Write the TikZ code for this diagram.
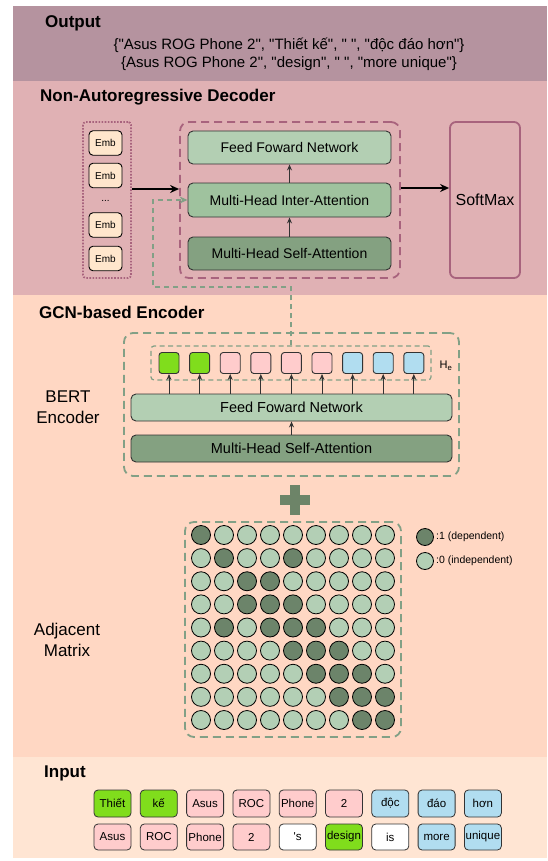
\documentclass[tikz,border=0pt]{standalone}
\usepackage{fontspec}
\setmainfont{Liberation Sans}[Ligatures=TeXOff]
\usetikzlibrary{arrows.meta,calc}
\definecolor{outbg}{HTML}{B5939F}
\definecolor{decbg}{HTML}{E0B1B4}
\definecolor{encbg}{HTML}{FFD7C3}
\definecolor{inbg}{HTML}{FFE5D3}
\definecolor{mauve}{HTML}{A8637D}
\definecolor{gline}{HTML}{82A086}
\definecolor{gone}{HTML}{B3CFB3}
\definecolor{gtwo}{HTML}{9FC29E}
\definecolor{gthree}{HTML}{84A181}
\definecolor{embfill}{HTML}{FFE6CC}
\definecolor{tgreen}{HTML}{80DD1C}
\definecolor{tpink}{HTML}{FFCCCC}
\definecolor{tblue}{HTML}{B1DDF0}
\definecolor{cdark}{HTML}{6C846A}
\definecolor{clight}{HTML}{B3CFB5}
\definecolor{plusc}{HTML}{6D8468}
\definecolor{edge}{HTML}{333333}
\begin{document}
\begin{tikzpicture}[x=1pt,y=-1pt,
  ttl/.style={anchor=west,inner sep=0pt,font=\fontsize{17}{20}\selectfont\bfseries},
  lbl/.style={align=center,inner sep=0pt,font=\fontsize{17}{21}\selectfont},
  gbox/.style={draw=edge,line width=0.9pt,rounded corners=5pt,inner sep=0pt,minimum width=203pt,font=\fontsize{14}{17}\selectfont},
  ebox/.style={draw=edge,line width=0.9pt,rounded corners=5pt,inner sep=0pt,minimum width=321pt,minimum height=27pt,font=\fontsize{14.5}{17}\selectfont},
  embbox/.style={draw=black,line width=0.9pt,rounded corners=4pt,fill=embfill,inner sep=0pt,minimum width=33pt,minimum height=24.5pt,font=\fontsize{10}{12}\selectfont},
  embgrp/.style={draw=mauve,line width=1.8pt,dash pattern=on 1.6pt off 1.5pt,rounded corners=3pt,minimum width=48pt,minimum height=156pt,inner sep=0pt},
  decgrp/.style={draw=mauve,line width=1.8pt,dash pattern=on 8pt off 5pt,rounded corners=9pt,minimum width=220pt,minimum height=156pt,inner sep=0pt},
  softbox/.style={draw=mauve,line width=1.8pt,rounded corners=6pt,minimum width=70pt,minimum height=156pt,inner sep=0pt,font=\fontsize{16}{19}\selectfont},
  grngrp/.style={draw=gline,line width=1.8pt,dash pattern=on 8pt off 5pt,rounded corners=9pt,inner sep=0pt},
  hegrp/.style={draw=gline,line width=1.2pt,dash pattern=on 5pt off 3.5pt,rounded corners=3pt,minimum width=280pt,minimum height=34pt,inner sep=0pt},
  sq/.style={draw=edge,line width=0.9pt,rounded corners=3pt,minimum width=20pt,minimum height=21pt,inner sep=0pt},
  dot/.style={circle,draw=black,line width=0.8pt,minimum size=19pt,inner sep=0pt},
  tok/.style={draw=edge,line width=0.8pt,rounded corners=4pt,minimum width=37pt,inner sep=0pt,font=\fontsize{11.5}{14}\selectfont},
  bigarr/.style={draw=black,line width=1.4pt,-{Stealth[length=9pt,width=8pt]}},
  sarr/.style={draw=edge,line width=0.9pt,-{Stealth[length=6pt,width=5pt]}},
  garr/.style={draw=gline,line width=1.3pt,dash pattern=on 5pt off 4pt,-{Stealth[length=8pt,width=7pt]}},
  small/.style={font=\fontsize{10.5}{12}\selectfont}
]
\useasboundingbox (0,0) rectangle (547,861);
% bands
\fill[outbg] (13,6) rectangle (547,81);
\fill[decbg] (13,81) rectangle (547,295);
\fill[encbg] (13,295) rectangle (547,757);
\fill[inbg] (13,757) rectangle (547,858);

% Output
\node[ttl] (outtitle) at (45,23) {Output};
\node[align=center,inner sep=0pt,font=\fontsize{15}{18}\selectfont] (outtext) at (289,54)
  {\{"Asus ROG Phone 2", "Thiết kế", " ", "độc đáo hơn"\}\\\{Asus ROG Phone 2", "design", " ", "more unique"\}};

% Decoder
\node[ttl] (dectitle) at (40,97) {Non-Autoregressive Decoder};
\node[embgrp] (embgroup) at (107,200) {};
\node[embbox] (emb1) at (105.5,143) {Emb};
\node[embbox] (emb2) at (105.5,175.5) {Emb};
\node[inner sep=0pt,font=\fontsize{10}{12}\selectfont] (edots) at (105.5,201) {...};
\node[embbox] (emb3) at (105.5,225) {Emb};
\node[embbox] (emb4) at (105.5,258.5) {Emb};
\node[decgrp] (decgroup) at (290,200) {};
\node[gbox,fill=gone,minimum height=33pt] (dffn) at (289.5,147.5) {Feed Foward Network};
\node[gbox,fill=gtwo,minimum height=34pt] (dmhia) at (289.5,200) {Multi-Head Inter-Attention};
\node[gbox,fill=gthree,minimum height=33pt] (dmhsa) at (289.5,253.5) {Multi-Head Self-Attention};
\node[softbox] (softmax) at (485,200) {SoftMax};
\draw[sarr] (dmhsa) -- (dmhia);
\draw[sarr] (dmhia) -- (dffn);
\draw[bigarr] ([yshift=11pt]embgroup.east) -- ([yshift=11pt]decgroup.west);
\draw[bigarr] ([yshift=12pt]decgroup.east) -- ([yshift=12pt]softmax.west);

% Encoder
\node[ttl] (enctitle) at (39,312) {GCN-based Encoder};
\node[grngrp,minimum width=335pt,minimum height=143pt] (bertgroup) at (291.5,404.5) {};
\node[hegrp] (hebox) at (291,363) {};
\foreach \i/\c in {1/tgreen,2/tgreen,3/tpink,4/tpink,5/tpink,6/tpink,7/tblue,8/tblue,9/tblue}{
  \node[sq,fill=\c] (sq\i) at ({169+30.6*(\i-1)},363) {};
}
\node[inner sep=0pt,font=\fontsize{11}{13}\selectfont] (helabel) at (446,366) {H\textsubscript{e}};
\node[ebox,fill=gone] (effn) at (291.5,407.5) {Feed Foward Network};
\node[ebox,fill=gthree] (emhsa) at (291.5,448.5) {Multi-Head Self-Attention};
\foreach \i in {1,...,9}{
  \draw[sarr] (effn.north -| sq\i) -- (sq\i.south);
}
\draw[sarr] (emhsa) -- (effn);
\node[lbl] (bertlabel) at (68,407) {BERT\\Encoder};
\coordinate (gturn) at (153,287);
\draw[garr] (hebox.north) |- (gturn) |- (dmhia.west);

% plus
\fill[plusc] (290,485) rectangle (300,515);
\fill[plusc] (280,495) rectangle (310,505);

% Adjacent matrix
\node[grngrp,minimum width=216pt,minimum height=215pt] (matgroup) at (293,629.5) {};
\foreach \r/\c in {1/1,2/2,2/5,3/3,3/4,4/3,4/4,4/5,5/2,5/4,5/5,5/6,6/5,6/6,6/7,7/6,7/7,7/8,8/7,8/8,8/9,9/8,9/9}{
  \expandafter\gdef\csname dkm\r x\c\endcsname{}
}
\foreach \r in {1,...,9}{
  \foreach \c in {1,...,9}{
    \ifcsname dkm\r x\c\endcsname\def\cc{cdark}\else\def\cc{clight}\fi
    \node[dot,fill=\cc] (m\r-\c) at ({201+23*(\c-1)},{535+23.125*(\r-1)}) {};
  }
}
\node[dot,fill=cdark,minimum size=17pt] (leg1) at (425,537) {};
\node[small,anchor=west,inner sep=0pt] (leg1t) at (436,537) {:1 (dependent)};
\node[dot,fill=clight,minimum size=17pt] (leg0) at (425,561) {};
\node[small,anchor=west,inner sep=0pt] (leg0t) at (436,561) {:0 (independent)};
\node[lbl] (matlabel) at (67,640) {Adjacent\\Matrix};

% Input
\node[ttl] (intitle) at (44,773) {Input};
\foreach \i/\t/\c in {1/Thiết/tgreen,2/kế/tgreen,3/Asus/tpink,4/ROC/tpink,5/Phone/tpink,6/2/tpink,7/độc/tblue,8/đáo/tblue,9/hơn/tblue}{
  \node[tok,fill=\c,minimum height=27pt] (ta\i) at ({112.5+46.3*(\i-1)},803.5) {\t};
}
\foreach \i/\t/\c in {1/Asus/tpink,2/ROC/tpink,3/Phone/tpink,4/2/tpink,5/'s/white,6/design/tgreen,7/is/white,8/more/tblue,9/unique/tblue}{
  \node[tok,fill=\c,minimum height=26pt] (tb\i) at ({112.5+46.3*(\i-1)},837) {\t};
}
\end{tikzpicture}
\end{document}
